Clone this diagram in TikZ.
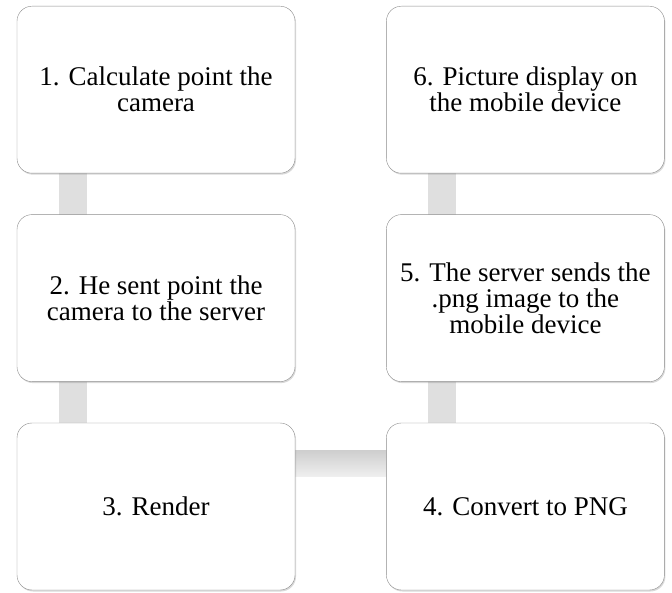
\documentclass[tikz,border=0pt]{standalone}
\usepackage{fontspec}
\setmainfont{Liberation Serif}
\usetikzlibrary{positioning, calc, shadows, backgrounds}
\begin{document}
\begin{tikzpicture}[x=1pt, y=1pt,
    every node/.style={font=\fontsize{27}{26}\selectfont, align=center},
    stage/.style={draw=black!45, fill=white, rounded corners=15pt, minimum width=278pt, minimum height=167pt, inner sep=0pt,
        drop shadow={opacity=0.3, shadow xshift=1pt, shadow yshift=-1.5pt}},
    link/.style={draw=gray!25, line width=28pt},
    node distance=41pt and 91pt]
\useasboundingbox (0,0) rectangle (672,592);

\node[stage] (render) at (156,85.5) {3. Render};
\node[stage, above=of render] (send) {2. He sent point the\\camera to the server};
\node[stage, above=of send] (calc) {1. Calculate point the\\camera};
\node[stage, right=of render] (convert) {4. Convert to PNG};
\node[stage, above=of convert] (reply) {5. The server sends the\\.png image to the\\mobile device};
\node[stage, above=of reply] (show) {6. Picture display on\\the mobile device};

\begin{scope}[on background layer]
    \draw[link] ($(calc.south west)+(56,5)$) -- ($(send.north west)+(56,-5)$);
    \draw[link] ($(send.south west)+(56,5)$) -- ($(render.north west)+(56,-5)$);
    \shade[top color=gray!38, bottom color=gray!12] ($(render.north east)+(-5,-28)$) rectangle ($(convert.north west)+(5,-54)$);
    \draw[link] ($(convert.north west)+(56,-5)$) -- ($(reply.south west)+(56,5)$);
    \draw[link] ($(reply.north west)+(56,-5)$) -- ($(show.south west)+(56,5)$);
\end{scope}
\end{tikzpicture}
\end{document}
